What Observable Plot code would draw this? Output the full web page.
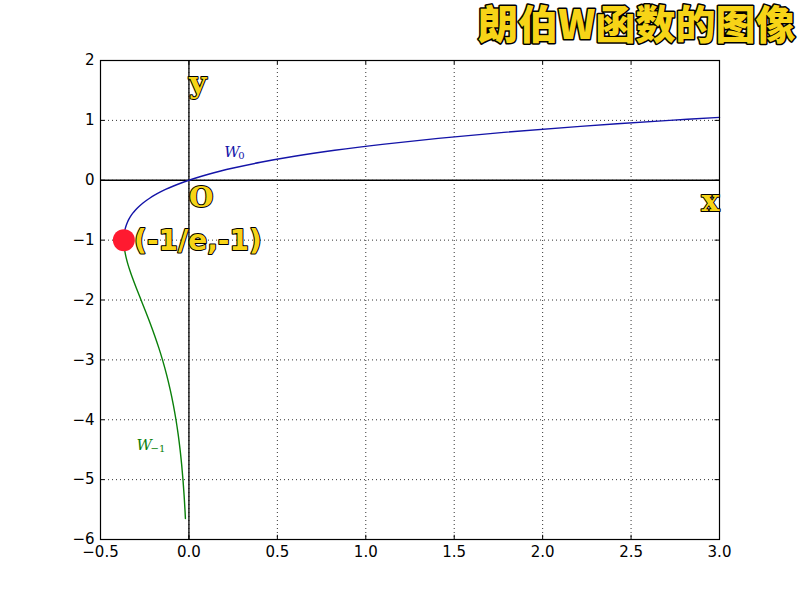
<!DOCTYPE html>
<html>
<head>
<meta charset="utf-8">
<script src="https://cdn.jsdelivr.net/npm/d3@7"></script>
<script src="https://cdn.jsdelivr.net/npm/@observablehq/plot@0.6"></script>
<style>
  html, body { margin: 0; padding: 0; background: #fff; }
  #chart svg { display: block; }
</style>
</head>
<body>
<div id="chart"></div>
<script>
// Principal branch W0 (x, y)
const w0X = [-0.36788, -0.36780, -0.36740, -0.36591, -0.36330, -0.35946, -0.35427, -0.34761, -0.33933, -0.32929, -0.31732, -0.30327, -0.28693, -0.26813, -0.24664, -0.22225, -0.19470, -0.16375, -0.12911, -0.09048, -0.04756, 0, 0.05256, 0.11052, 0.17427, 0.24428, 0.40496, 0.59673, 0.82436, 1.09327, 1.40963, 1.78043, 2.21364, 2.71828, 3.0];
const w0Y = [-1, -0.98, -0.95, -0.9, -0.85, -0.8, -0.75, -0.7, -0.65, -0.6, -0.55, -0.5, -0.45, -0.4, -0.35, -0.3, -0.25, -0.2, -0.15, -0.1, -0.05, 0, 0.05, 0.1, 0.15, 0.2, 0.3, 0.4, 0.5, 0.6, 0.7, 0.8, 0.9, 1.0, 1.0499];
// Lower branch W-1 (x, y)
const wm1X = [-0.36788, -0.36744, -0.36616, -0.36143, -0.35429, -0.34524, -0.33470, -0.32304, -0.29754, -0.27067, -0.24377, -0.21772, -0.19311, -0.17027, -0.14936, -0.12602, -0.10569, -0.08819, -0.07326, -0.06062, -0.04999, -0.04109, -0.03369, -0.02755, -0.02248, -0.01988];
const wm1Y = [-1, -1.05, -1.1, -1.2, -1.3, -1.4, -1.5, -1.6, -1.8, -2.0, -2.2, -2.4, -2.6, -2.8, -3.0, -3.25, -3.5, -3.75, -4.0, -4.25, -4.5, -4.75, -5.0, -5.25, -5.5, -5.65];

const xTicks = [-0.5, 0, 0.5, 1, 1.5, 2, 2.5, 3];
const xTickLabels = ["−0.5", "0.0", "0.5", "1.0", "1.5", "2.0", "2.5", "3.0"];
const yTicks = [2, 1, 0, -1, -2, -3, -4, -5, -6];
const yTickLabels = ["2", "1", "0", "−1", "−2", "−3", "−4", "−5", "−6"];

const branchPoint = [{x: -0.36788, y: -1}];
const titleText = "朗伯W函数的图像";
const pointLabel = "(-1/e,-1)";

const w0 = w0X.map((x, i) => ({x, y: w0Y[i]}));
const wm1 = wm1X.map((x, i) => ({x, y: wm1Y[i]}));

const yellow = "#f7d417";
const outlined = {fill: yellow, stroke: "#000", strokeWidth: 2, paintOrder: "stroke", fontWeight: "bold"};

const chart = Plot.plot({
  width: 800,
  height: 600,
  marginLeft: 100,
  marginRight: 81,
  marginTop: 60,
  marginBottom: 61,
  style: {fontFamily: "DejaVu Sans", fontSize: "15px", background: "#fff", color: "#000"},
  x: {domain: [-0.5, 3]},
  y: {domain: [-6, 2]},
  marks: [
    Plot.gridX(xTicks, {stroke: "#000", strokeOpacity: 0.8, strokeDasharray: "1,3"}),
    Plot.gridY(yTicks, {stroke: "#000", strokeOpacity: 0.8, strokeDasharray: "1,3"}),
    Plot.ruleX([0], {stroke: "#000", strokeWidth: 1.3}),
    Plot.ruleY([0], {stroke: "#000", strokeWidth: 1.3}),
    Plot.axisX(xTicks, {tickSize: 0, tickPadding: 7, fontSize: 15, tickFormat: (d, i) => xTickLabels[i], label: null}),
    Plot.axisY(yTicks, {tickSize: 0, tickPadding: 6, fontSize: 15, tickFormat: (d, i) => yTickLabels[i], label: null}),
    Plot.ruleX(xTicks, {x: d => d, y1: -6, y2: -5.93, stroke: "#000"}),
    Plot.ruleX(xTicks, {x: d => d, y1: 2, y2: 1.93, stroke: "#000"}),
    Plot.ruleY(yTicks, {y: d => d, x1: -0.5, x2: -0.475, stroke: "#000"}),
    Plot.ruleY(yTicks, {y: d => d, x1: 3, x2: 2.975, stroke: "#000"}),
    Plot.line(w0, {x: "x", y: "y", stroke: "#1414a8", strokeWidth: 1.4, curve: "catmull-rom"}),
    Plot.line(wm1, {x: "x", y: "y", stroke: "#0a800a", strokeWidth: 1.4, curve: "catmull-rom"}),
    Plot.frame({stroke: "#000", strokeWidth: 1.2}),
    Plot.dot(branchPoint, {x: "x", y: "y", r: 11, fill: "#ff1a30", stroke: "none"}),
    Plot.text([pointLabel], {x: -0.31, y: -1.02, text: d => d, textAnchor: "start", fontSize: 28, fontFamily: "DejaVu Sans", ...outlined}),
    Plot.text(["y"], {x: 0, y: 1.62, text: d => d, textAnchor: "start", dx: 0, fontSize: 30, fontFamily: "DejaVu Serif", ...outlined}),
    Plot.text(["O"], {x: 0, y: -0.3, text: d => d, textAnchor: "start", dx: 0, fontSize: 28, fontFamily: "DejaVu Serif", ...outlined}),
    Plot.text(["x"], {x: 3, y: -0.36, text: d => d, textAnchor: "end", dx: 0, fontSize: 30, fontFamily: "DejaVu Serif", ...outlined}),
    Plot.text(["W"], {x: 0.2, y: 0.47, text: d => d, textAnchor: "start", fontSize: 15, fontStyle: "italic", fontFamily: "DejaVu Serif", fill: "#1414a8"}),
    Plot.text(["0"], {x: 0.2, y: 0.47, text: d => d, textAnchor: "start", dx: 14, dy: 4, fontSize: 10, fontFamily: "DejaVu Serif", fill: "#1414a8"}),
    Plot.text(["W"], {x: -0.296, y: -4.42, text: d => d, textAnchor: "start", fontSize: 15, fontStyle: "italic", fontFamily: "DejaVu Serif", fill: "#0a800a"}),
    Plot.text(["−1"], {x: -0.296, y: -4.42, text: d => d, textAnchor: "start", dx: 14, dy: 4, fontSize: 10, fontFamily: "DejaVu Serif", fill: "#0a800a"}),
    Plot.text([titleText], {frameAnchor: "top-right", dx: 76, dy: -34, text: d => d, textAnchor: "end", lineAnchor: "middle", fontSize: 40, fontFamily: "Noto Sans CJK SC", fontWeight: 900, fill: yellow, stroke: "#000", strokeWidth: 3, paintOrder: "stroke"})
  ]
});
document.getElementById("chart").appendChild(chart);
</script>
</body>
</html>
